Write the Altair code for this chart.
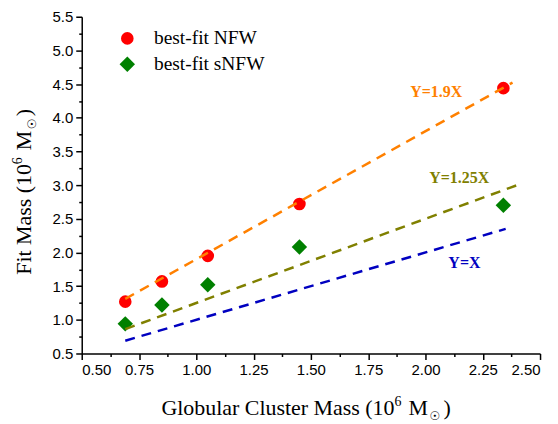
import altair as alt
import pandas as pd

# Data
gc_mass = [0.69, 0.85, 1.05, 1.45, 2.34]
nfw_mass = [1.27, 1.57, 1.95, 2.72, 4.44]
snfw_mass = [0.94, 1.22, 1.52, 2.08, 2.70]
series_names = ["best-fit NFW", "best-fit sNFW"]

line_labels = ["Y=1.9X", "Y=1.25X", "Y=X"]
line_slopes = [1.9, 1.25, 1.0]
line_x_start = [0.69, 0.69, 0.69]
line_x_end = [2.38, 2.40, 2.35]
line_colors = ["#FF8000", "#808000", "#0000C0"]
label_x = [2.047, 2.147, 2.17]
label_y = [4.376, 3.10, 1.846]

x_major = [0.5, 0.75, 1.0, 1.25, 1.5, 1.75, 2.0, 2.25, 2.5]
x_minor = [0.625, 0.875, 1.125, 1.375, 1.625, 1.875, 2.125, 2.375]
y_major = [0.5, 1.0, 1.5, 2.0, 2.5, 3.0, 3.5, 4.0, 4.5, 5.0, 5.5]
y_minor = [0.75, 1.25, 1.75, 2.25, 2.75, 3.25, 3.75, 4.25, 4.75, 5.25]

# Axis title pieces for composing super/subscripts
x_title_parts = ["Globular Cluster Mass (10", "6", "M", "☉", ")"]
y_title_parts = ["Fit Mass (10", "6", "M", "☉", ")"]

pts = pd.DataFrame(
    {
        "x": gc_mass * 2,
        "y": nfw_mass + snfw_mass,
        "series": [series_names[0]] * 5 + [series_names[1]] * 5,
    }
)

rows = []
for lab, s, x0, x1 in zip(line_labels, line_slopes, line_x_start, line_x_end):
    rows.append({"line": lab, "x": x0, "y": s * x0})
    rows.append({"line": lab, "x": x1, "y": s * x1})
lines_df = pd.DataFrame(rows)
labels_df = pd.DataFrame({"line": line_labels, "x": label_x, "y": label_y})

xscale = alt.Scale(domain=[0.5, 2.5], nice=False, zero=False)
yscale = alt.Scale(domain=[0.5, 5.5], nice=False, zero=False)

common_axis = dict(
    grid=False,
    title=None,
    labelFont="Liberation Sans",
    labelFontSize=15,
    labelColor="black",
    domainColor="black",
    domainWidth=1.5,
    tickColor="black",
    tickWidth=1.5,
    labelOverlap=False,
    labelPadding=3,
)

xaxis = alt.Axis(values=x_major, format=".2f", tickSize=6, orient="bottom", **common_axis)
yaxis = alt.Axis(values=y_major, format=".1f", tickSize=6, orient="left", **common_axis)
xaxis_minor = alt.Axis(
    values=x_minor, tickSize=3, labels=False, domain=False, title=None, grid=False,
    tickColor="black", tickWidth=1.5, orient="bottom",
)
yaxis_minor = alt.Axis(
    values=y_minor, tickSize=3, labels=False, domain=False, title=None, grid=False,
    tickColor="black", tickWidth=1.5, orient="left",
)

points = (
    alt.Chart(pts)
    .mark_point(filled=True, opacity=1)
    .encode(
        x=alt.X("x:Q", scale=xscale, axis=xaxis),
        y=alt.Y("y:Q", scale=yscale, axis=yaxis),
        color=alt.Color(
            "series:N",
            scale=alt.Scale(domain=series_names, range=["#FF0000", "#008000"]),
            legend=alt.Legend(
                title=None,
                orient="none",
                legendX=36,
                legendY=12,
                labelFont="Liberation Serif",
                labelFontSize=19.5,
                labelColor="black",
                symbolSize=170,
                symbolStrokeWidth=0,
                labelOffset=17,
                rowPadding=5,
            ),
        ),
        shape=alt.Shape(
            "series:N",
            scale=alt.Scale(domain=series_names, range=["circle", "diamond"]),
            legend=None,
        ),
        size=alt.Size(
            "series:N",
            scale=alt.Scale(domain=series_names, range=[160, 240]),
            legend=None,
        ),
    )
)

minor = (
    alt.Chart(pts)
    .mark_point(opacity=0)
    .encode(
        x=alt.X("x:Q", scale=xscale, axis=xaxis_minor),
        y=alt.Y("y:Q", scale=yscale, axis=yaxis_minor),
    )
)

line_layers = []
text_layers = []
for lab, col in zip(line_labels, line_colors):
    line_layers.append(
        alt.Chart(lines_df[lines_df["line"] == lab])
        .mark_line(color=col, strokeDash=[10, 7], strokeWidth=2.5)
        .encode(
            x=alt.X("x:Q", scale=xscale, axis=None),
            y=alt.Y("y:Q", scale=yscale, axis=None),
        )
    )
    text_layers.append(
        alt.Chart(labels_df[labels_df["line"] == lab])
        .mark_text(color=col, font="Liberation Serif", fontSize=16, fontWeight="bold")
        .encode(
            x=alt.X("x:Q", scale=xscale, axis=None),
            y=alt.Y("y:Q", scale=yscale, axis=None),
            text="line:N",
        )
    )

# composed axis titles (pixel placement relative to plot area)
x_title_pos = [(80, 400, 22, "Liberation Serif"), (314, 391, 14, "Liberation Serif"),
               (328, 400, 22, "Liberation Serif"), (349, 405, 12, "DejaVu Sans"),
               (363, 400, 22, "Liberation Serif")]
y_title_pos = [(-51, 259, 22, "Liberation Serif"), (-60, 148, 14, "Liberation Serif"),
               (-51, 134, 22, "Liberation Serif"), (-46, 113, 12, "DejaVu Sans"),
               (-51, 100, 22, "Liberation Serif")]

title_layers = []
for txt, (px, py, fs, fnt) in zip(x_title_parts, x_title_pos):
    title_layers.append(
        alt.Chart(pd.DataFrame({"t": [txt]}))
        .mark_text(align="left", baseline="alphabetic", fontSize=fs, font=fnt, color="black")
        .encode(x=alt.value(px), y=alt.value(py), text="t:N")
    )
for txt, (px, py, fs, fnt) in zip(y_title_parts, y_title_pos):
    title_layers.append(
        alt.Chart(pd.DataFrame({"t": [txt]}))
        .mark_text(align="left", baseline="alphabetic", fontSize=fs, font=fnt, color="black", angle=270)
        .encode(x=alt.value(px), y=alt.value(py), text="t:N")
    )

chart = (
    alt.layer(points, minor, *line_layers, *text_layers, *title_layers)
    .resolve_axis(x="independent", y="independent")
    .properties(
        width=460,
        height=338,
        autosize=alt.AutoSizeParams(type="none"),
        padding={"left": 74, "top": 8, "right": 10, "bottom": 70},
    )
    .configure_view(stroke=None)
    .configure_legend(symbolType="circle")
)

chart.save("out.html", embed_options={"renderer": "svg", "actions": False})
